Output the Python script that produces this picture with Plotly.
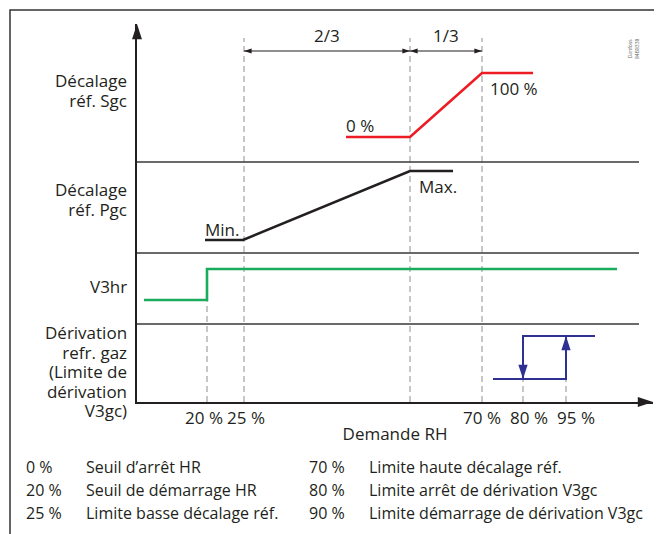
import plotly.graph_objects as go

# schematic positions along the RH demand axis (0 = vertical axis)
x_tick_pos = [70, 107, 345, 386, 429]
x_tick_labels = ["20 %", "25 %", "70 %", "80 %", "95 %"]
split_pos = 273          # boundary between the 2/3 and 1/3 spans

# panels: label lines and their centre height on the vertical axis
panel_labels = [["Décalage", "réf. Sgc"], ["Décalage", "réf. Pgc"], ["V3hr"],
                ["Dérivation", "refr. gaz", "(Limite de", "dérivation", "V3gc)"]]
panel_y = [312, 202.5, 116, 30.5]
panel_bounds = [240, 149, 78]

# curves
sgc_x = [209, 273, 345, 396]
sgc_y = [265, 265, 329, 329]
pgc_x = [68, 106, 273, 316]
pgc_y = [162, 162, 231, 231]
v3hr_x = [7, 70, 70, 480]
v3hr_y = [102, 102, 133, 133]
byp_stop_x = [458, 386, 386]
byp_stop_y = [66, 66, 23]
byp_start_x = [356, 429, 429]
byp_start_y = [23, 23, 66]

# dashed guide lines: x and top end
guide_x = [70, 107, 273, 345, 386, 429]
guide_top = [102, 364, 364, 364, 23, 23]

legend_pct = ["0 %", "20 %", "25 %", "70 %", "80 %", "90 %"]
legend_txt = ["Seuil d’arrêt HR", "Seuil de démarrage HR", "Limite basse décalage réf.",
              "Limite haute décalage réf.", "Limite arrêt de dérivation V3gc",
              "Limite démarrage de dérivation V3gc"]

W, H = 516, 378
INK = "#231f20"
FONT = "Open Sans"
FS = 17

fig = go.Figure()

# dashed guides
for gx, gt in zip(guide_x, guide_top):
    fig.add_trace(go.Scatter(x=[gx, gx], y=[0, gt], mode="lines",
                             line=dict(color="#b5b5b5", width=1.5, dash="6px,4px")))

# panel separators
for by in panel_bounds:
    fig.add_trace(go.Scatter(x=[0, 502], y=[by, by], mode="lines",
                             line=dict(color="#383838", width=1.6)))

# dimension line 2/3 - 1/3
dim_y = 351
fig.add_trace(go.Scatter(x=[x_tick_pos[1], split_pos, None, split_pos, x_tick_pos[2]],
                         y=[dim_y, dim_y, None, dim_y, dim_y], mode="lines",
                         line=dict(color=INK, width=1.2)))
fig.add_trace(go.Scatter(x=[x_tick_pos[1], split_pos, split_pos, x_tick_pos[2]],
                         y=[dim_y] * 4, mode="markers", cliponaxis=False,
                         marker=dict(symbol="arrow", size=8, color=INK, angle=[270, 90, 270, 90],
                                     line=dict(width=0))))

# curves
fig.add_trace(go.Scatter(x=sgc_x, y=sgc_y, mode="lines", line=dict(color="#ed1c24", width=2.6)))
fig.add_trace(go.Scatter(x=pgc_x, y=pgc_y, mode="lines", line=dict(color=INK, width=2.6)))
fig.add_trace(go.Scatter(x=v3hr_x, y=v3hr_y, mode="lines", line=dict(color="#1aab5c", width=2.6)))
fig.add_trace(go.Scatter(x=byp_stop_x, y=byp_stop_y, mode="lines", line=dict(color="#2e3192", width=2)))
fig.add_trace(go.Scatter(x=byp_start_x, y=byp_start_y, mode="lines", line=dict(color="#2e3192", width=2)))
fig.add_trace(go.Scatter(x=[byp_stop_x[-1], byp_start_x[-1]], y=[byp_stop_y[-1], byp_start_y[-1]],
                         mode="markers", cliponaxis=False,
                         marker=dict(symbol="arrow", size=15, color="#2e3192", angle=[180, 0],
                                     line=dict(width=0))))

# axis arrowheads
fig.add_trace(go.Scatter(x=[0, W], y=[H, 0], mode="markers", cliponaxis=False,
                         marker=dict(symbol="arrow", size=16, color=INK, angle=[0, 90],
                                     line=dict(width=0))))

ann = []
def label(x, y, text, xanchor="left", size=FS, ref="data", **kw):
    a = dict(x=x, y=y, text=text, showarrow=False, xanchor=xanchor, yanchor="middle",
             font=dict(family=FONT, size=size, color=kw.pop("color", INK)), **kw)
    if ref == "paper":
        a.update(xref="paper", yref="paper", x=x / W, y=y / H)
    ann.append(a)

label(sgc_x[0] - 2, 277, "0 %")
label(sgc_x[2] + 6, 314, "100 %")
label(pgc_x[0] - 2, 173, "Min.")
label(pgc_x[2] + 7, 216, "Max.")
label((x_tick_pos[1] + split_pos) / 2, 367, "2/3", xanchor="center")
label((split_pos + x_tick_pos[2]) / 2, 367, "1/3", xanchor="center")
label(496, 353, "Danfoss<br>84B8338", xanchor="center", size=5, color="#666666", textangle=-90)

# panel names, right-aligned next to the vertical axis
# (box font 15 keeps the tight line pitch, glyphs drawn at 17)
for lines, cy in zip(panel_labels, panel_y):
    txt = "<br>".join(f'<span style="font-size:{FS}px">{s}</span>' for s in lines)
    label(0, cy, txt, xanchor="right", ref="paper", size=15, align="right", xshift=-8)

# key below the chart
rows_y = [-65, -88, -111]
for i, (p, t) in enumerate(zip(legend_pct, legend_txt)):
    col = i // 3
    ry = rows_y[i % 3]
    label(-113 + col * 283, ry, p, ref="paper", size=16)
    label(-53 + col * 283, ry, t, ref="paper", size=16)

fig.update_layout(
    width=654, height=526,
    margin=dict(l=129, r=9, t=16, b=132),
    paper_bgcolor="white", plot_bgcolor="white",
    showlegend=False,
    annotations=ann,
    shapes=[dict(type="rect", xref="paper", yref="paper",
                 x0=(10 - 137) / W, x1=1.05, y0=-0.6, y1=(402 - 10) / H,
                 line=dict(color="#333333", width=1.5))],
    xaxis=dict(range=[0, W], showgrid=False, zeroline=False, showline=True,
               linecolor=INK, linewidth=1.5, ticks="", tickangle=0,
               tickvals=[x_tick_pos[0] - 3, x_tick_pos[1] + 2, x_tick_pos[2],
                         x_tick_pos[3] + 6, x_tick_pos[4] + 10],
               ticktext=x_tick_labels, tickfont=dict(family=FONT, size=FS, color=INK),
               title=dict(text="Demande RH", font=dict(family=FONT, size=FS, color=INK),
                          standoff=0)),
    yaxis=dict(range=[0, H], showgrid=False, zeroline=False, showline=True,
               linecolor=INK, linewidth=1.5, showticklabels=False, ticks=""),
)

fig.write_html("out.html")
